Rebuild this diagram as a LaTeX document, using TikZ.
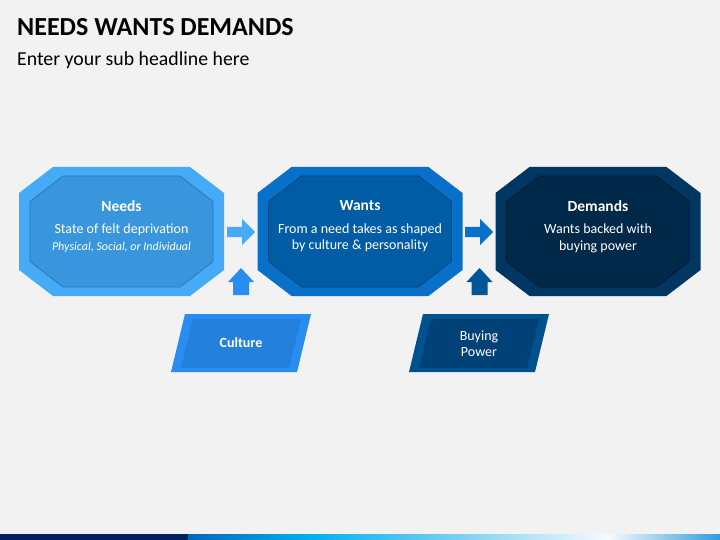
\documentclass[tikz,border=0pt]{standalone}
\usepackage{fontspec}
\setmainfont{Carlito}
\usetikzlibrary{calc,positioning}

\definecolor{pagebg}{RGB}{242,242,242}
\definecolor{needsout}{RGB}{69,171,247}
\definecolor{needsin}{RGB}{58,150,220}
\definecolor{needsline}{RGB}{44,120,185}
\definecolor{wantsout}{RGB}{8,112,200}
\definecolor{wantsin}{RGB}{0,92,165}
\definecolor{wantsline}{RGB}{0,72,135}
\definecolor{demout}{RGB}{0,55,98}
\definecolor{demin}{RGB}{0,40,72}
\definecolor{demline}{RGB}{0,28,54}
\definecolor{cultout}{RGB}{40,140,240}
\definecolor{cultin}{RGB}{35,128,220}
\definecolor{buyout}{RGB}{0,82,142}
\definecolor{buyin}{RGB}{0,66,120}
\definecolor{buyarrow}{RGB}{0,85,150}
\definecolor{navybar}{RGB}{0,32,96}
\definecolor{barblue}{RGB}{0,102,190}
\definecolor{barcyan}{RGB}{0,176,240}
\definecolor{barpale}{RGB}{125,208,244}
\definecolor{barwhite}{RGB}{246,251,255}
\definecolor{barend}{RGB}{50,155,222}

\tikzset{
	headline/.style={anchor=base west, inner sep=0, font=\bfseries\fontsize{26}{30}\selectfont},
	subline/.style={anchor=base west, inner sep=0, font=\fontsize{19.8}{23}\selectfont},
	boxtext/.style={text=white, align=center, inner sep=0, font=\fontsize{14}{16.5}\selectfont},
}
\newcommand{\boxhead}[1]{{\bfseries\fontsize{15.5}{16.5}\selectfont #1}}

% octagon round (x,y): outer fill, inner fill, inner rim
\def\octagon(#1,#2)#3#4#5{%
	\fill[#3, shift={(#1,#2)}] (-102.5,-38.5) -- (-68.5,-64.5) -- (68.5,-64.5) -- (102.5,-38.5) -- (102.5,38.5) -- (68.5,64.5) -- (-68.5,64.5) -- (-102.5,38.5) -- cycle;
	\filldraw[fill=#4, draw=#5, line width=0.8pt, shift={(#1,#2)}] (-91.5,-30) -- (-58.5,-55.5) -- (58.5,-55.5) -- (91.5,-30) -- (91.5,30) -- (58.5,55.5) -- (-58.5,55.5) -- (-91.5,30) -- cycle;}
% slanted box round (x,y): outer fill, inner fill
\def\slantbox(#1,#2)#3#4{%
	\fill[#3, shift={(#1,#2)}] (-70,29) -- (-56,-29) -- (70,-29) -- (56,29) -- cycle;
	\fill[#4, shift={(#1,#2)}] (-60,25) -- (-48,-24) -- (60,-24) -- (48,25) -- cycle;}
% block arrows: right one from its tail, up one from its foot
\def\rarrow(#1,#2)#3{\fill[#3, shift={(#1,#2)}] (0,-5) -- (15,-5) -- (15,-13) -- (28,0) -- (15,13) -- (15,5) -- (0,5) -- cycle;}
\def\uarrow(#1,#2)#3{\fill[#3, shift={(#1,#2)}] (-8,0) -- (-8,-13) -- (-13,-13) -- (0,-27) -- (13,-13) -- (8,-13) -- (8,0) -- cycle;}

\begin{document}
\begin{tikzpicture}[x=1pt, y=-1pt]
	%%%%% START %%%%%
	\useasboundingbox (0,0) rectangle (720,540);
	\fill[pagebg] (0,0) rectangle (720,540);
	
	\node[headline] (title) at (17,36) {NEEDS WANTS DEMANDS};
	\node[subline] (subtitle) at (17,66) {Enter your sub headline here};
	
	\octagon(121.5,231.5){needsout}{needsin}{needsline}
	\octagon(360,231.5){wantsout}{wantsin}{wantsline}
	\octagon(598,231.5){demout}{demin}{demline}
	
	\node[boxtext] (needs) at (121.5,226.5) {\boxhead{Needs}\\[6pt] State of felt deprivation\\ {\itshape\fontsize{12}{16.5}\selectfont Physical, Social, or Individual}};
	\node[boxtext] (wants) at (360,226.5) {\boxhead{Wants}\\[6pt] From a need takes as shaped\\ by culture \& personality};
	\node[boxtext] (demands) at (598,226.5) {\boxhead{Demands}\\[6pt] Wants backed with\\ buying power};
	
	\rarrow(227,232){needsout}
	\rarrow(465,232){wantsout}
	\uarrow(241,295){cultout}
	\uarrow(479.5,295){buyarrow}
	
	\slantbox(241,343){cultout}{cultin}
	\slantbox(479,343){buyout}{buyin}
	\node[boxtext, font=\bfseries\fontsize{14}{16.5}\selectfont] (culture) at (241,343) {Culture};
	\node[boxtext, font=\fontsize{14}{16}\selectfont] (buying) at (479,343.5) {Buying\\ Power};
	
	% strip along the foot
	\fill[navybar] (0,534) rectangle (188.5,540);
	\shade[left color=barblue, right color=barcyan] (188,534) rectangle (310.5,540);
	\shade[left color=barcyan, right color=barpale] (310,534) rectangle (460.5,540);
	\shade[left color=barpale, right color=barwhite] (460,534) rectangle (608.5,540);
	\shade[left color=barwhite, right color=barend] (608,534) rectangle (720,540);
	%%%%% END %%%%%
\end{tikzpicture}
\end{document}
